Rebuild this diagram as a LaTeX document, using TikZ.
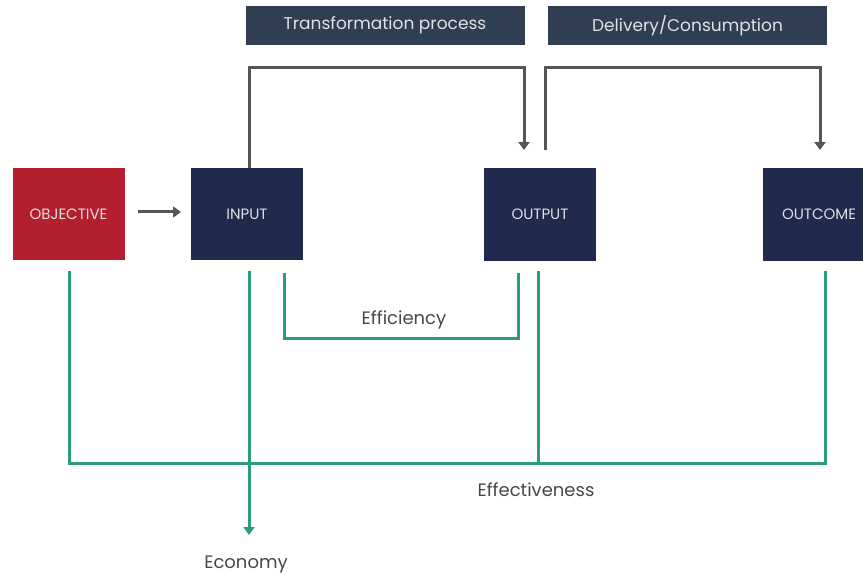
\documentclass[tikz,border=0pt]{standalone}
\usepackage{fontspec}
\setmainfont{Poppins}
\usetikzlibrary{arrows.meta}
\definecolor{navy}{HTML}{1F2A4D}
\definecolor{redbox}{HTML}{B41F2D}
\definecolor{slate}{HTML}{2F3E51}
\definecolor{teal}{HTML}{2A9C82}
\definecolor{greyline}{HTML}{555555}
\definecolor{txt}{HTML}{474747}
\tikzset{
  box/.style={draw=none, fill=navy, minimum width=112pt, minimum height=92pt, inner sep=0pt, text=white!85!navy, font=\fontsize{15}{17}\selectfont},
  header/.style={draw=none, fill=slate, minimum width=279pt, minimum height=39pt, inner sep=0pt, text=white!85!slate, font=\fontsize{17}{19}\selectfont},
  gline/.style={draw=greyline, line width=3pt},
  tline/.style={draw=teal, line width=3pt},
  lab/.style={text=txt, font=\fontsize{18}{20}\selectfont, inner sep=0pt},
  tip/.style={-{Triangle[width=11pt,length=8pt]}}
}
\begin{document}
\begin{tikzpicture}[x=1pt,y=-1pt]
\useasboundingbox (0,0) rectangle (863,575);
\clip (0,0) rectangle (863,575);
% headers
\node[header] (tp) at (385,25.5) {Transformation process};
\node[header] (dc) at (687.5,25.5) {Delivery/Consumption};
% boxes
\node[box, fill=redbox] (obj) at (68.5,214) {OBJECTIVE};
\node[box] (in) at (247,214) {INPUT};
\node[box] (out) at (540,214.5) {OUTPUT};
\node[box] (oc) at (819,214.5) {OUTCOME};
% grey arrows
\coordinate (a1) at (138,212);
\coordinate (a2) at (181,212);
\draw[gline, tip] (a1) -- (a2);
\draw[gline, tip] (in.north -| 249,0) -- (249,68) -- (524,68) -- (524,150);
\draw[gline, tip] (545,150) -- (545,68) -- (820,68) -- (820,150);
% teal lines
\draw[tline] (284,273) -- (284,338) -- (518,338) -- (518,273);
\node[lab] (eff) at (404,320) {Efficiency};
\draw[tline] (69,271) -- (69,463) -- (825,463) -- (825,271);
\draw[tline] (538,271) -- (538,463);
\node[lab] (effe) at (536,490) {Effectiveness};
\draw[tline, tip] (249,271) -- (249,535);
\node[lab] (eco) at (246,565) {Economy};
\end{tikzpicture}
\end{document}
